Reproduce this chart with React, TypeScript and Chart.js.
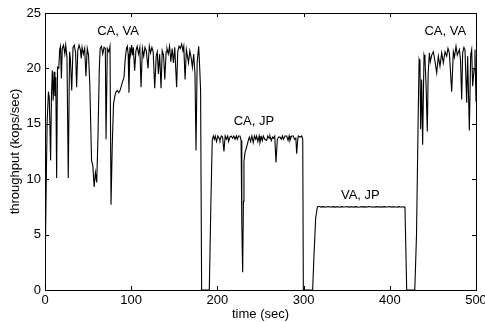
import { useEffect, useRef } from "react";
import { Chart, registerables } from "chart.js";

Chart.register(...registerables);

// time (sec)
const timeSec = [
  0, 1.5, 2.5, 4, 5, 6.5, 7.5, 8.5, 9.5, 10.5, 11.5, 12.5, 13.5, 14.5, 16, 17, 18, 19, 20, 21.5,
  23, 24, 25.5, 27, 28.5, 29.5, 31, 32.5, 34, 35.5, 36.7, 38, 39.5, 41, 42, 43, 44.5, 46, 47.5, 49,
  50.5, 52, 54, 55.5, 57, 58.5, 60, 61.5, 63, 64, 65.5, 67, 68.5, 70, 70.8, 72.3, 74, 75.4, 76.6, 78,
  79.5, 81, 82.5, 84, 85.5, 87, 88.5, 90, 91.7, 93, 94.5, 95.5, 96.5, 97.4, 98.5, 99.5, 100.5, 101.5, 102.5, 104,
  105.5, 107, 108.5, 110, 111.4, 113, 114.5, 116, 117.5, 119.5, 121, 122.5, 124, 125.5, 127.3, 129, 130.3, 131.5, 133, 134.6,
  136, 137.5, 139, 140.5, 141.5, 143, 144.5, 146, 147.5, 149, 150.5, 152.7, 154, 155.5, 157, 158.5, 160, 161, 162.5, 164,
  165.5, 166.5, 168, 169.5, 171, 172.5, 174, 175.2, 176.5, 178.3, 179.5, 180.5, 181.7, 190.6, 192.5, 194, 195.3,
  196.5, 197.5, 199, 200.5, 202, 203, 204.5, 206, 207.6, 209, 210.5, 212, 213, 214.5, 216, 217.7, 219, 220.5, 222, 223.1,
  224.5, 226.2, 227.5, 228.3, 229.3, 230.2, 230.8, 232, 233.9, 235.5, 237, 238.5, 240, 241.6, 243, 244.5, 245.5, 247, 248.5, 249.4,
  251, 252.2, 253.2, 255, 257.1, 258.5, 260, 261, 262.5, 264, 264.9, 266.5, 268, 269.5, 271, 272.6, 274, 275.5, 276.5, 278.5,
  280.4, 282, 283.2, 284.2, 286, 288.1, 289.5, 291, 292, 293.2, 293.9, 296, 297.8, 299, 299.7, 310.5, 312, 314, 316,
  318, 320, 322, 324, 326, 328, 330, 332, 334, 336, 338, 340, 342, 344, 346, 348, 350, 352, 354, 356,
  358, 360, 362, 364, 366, 368, 370, 372, 374, 376, 378, 380, 382, 384, 386, 388, 390, 392, 394, 396,
  398, 400, 402, 404, 406, 408, 410, 412, 414, 416, 417.6, 419.6, 429, 431, 433, 434,
  435, 435.8, 437, 438.1, 439.7, 440.8, 442, 443.5, 444.5, 445.9, 447, 448.6, 450.5, 452.5, 454.4, 456.3, 458.2, 460.2, 462.1, 464.1,
  466, 467.5, 469.1, 471.8, 473.7, 475, 476.8, 478.3, 480.7, 482, 483.4, 484.5, 486, 487.2, 489.2, 490.3, 492.3, 493.8, 495, 496.1,
  497.7, 498.8, 500,
];

// throughput (kops/sec)
const throughput = [
  1.0, 10, 15.2, 17.9, 17.3, 11.7, 17.5, 19.8, 17.1, 19.7, 17.5, 19.2, 10.1, 20.1, 20, 21.7, 22, 19.1, 21.8, 22.1,
  21.3, 22.1, 21, 10.1, 21.5, 20.8, 18, 21.9, 22.1, 21.4, 18.3, 21.6, 22.1, 21.7, 20.9, 21.9, 21.3, 21.8, 19.3, 21.8,
  21.2, 18.5, 11.7, 11.2, 9.3, 10.6, 9.7, 14, 20, 21.8, 22, 21.3, 21.9, 21.8, 13.6, 21.8, 21.5, 22, 7.7, 13,
  16.8, 17.5, 17.9, 18, 17.8, 18, 18.4, 18.8, 19.2, 20.8, 21.8, 22, 21.3, 17.8, 21.9, 21.3, 22.1, 21.2, 21.9, 19.8,
  21.6, 22, 21.3, 21.9, 18.3, 21.8, 21.1, 21.9, 21.6, 20, 22, 21.4, 21.9, 21.5, 18.2, 21.1, 21.5, 19.5, 21.3, 18.2,
  21.6, 21.2, 19, 21.5, 21.8, 21.3, 22, 20.6, 21.8, 20.5, 21.9, 18.3, 21.5, 22, 21.8, 22.2, 21.6, 22, 19, 21.7,
  21, 20.5, 21.6, 21, 20.1, 21.3, 19.5, 12.6, 20.5, 22, 20, 18, 0, 0, 8, 13.5, 13.9,
  13.6, 13.9, 13.4, 13.9, 13.7, 13.5, 13.9, 13.8, 12.5, 13.9, 13.6, 13.9, 13.4, 13.8, 13.9, 13.7, 13.9, 13.6, 13.9, 13.6,
  13.9, 13.9, 13.5, 6, 1.6, 8, 11.6, 12.4, 12.9, 13.4, 13.8, 13.4, 13.9, 13.3, 13.9, 13.6, 13.9, 13.4, 13.9, 13.3,
  13.8, 13.5, 13.9, 13.6, 13.5, 13.9, 13.7, 13.9, 13.5, 13.8, 13.7, 13.9, 11.5, 13.6, 13.8, 13.8, 13.6, 13.9, 13.6, 13.9,
  13.9, 13.5, 13.9, 13.5, 13.9, 13.9, 13.6, 13.7, 12.3, 13.6, 13.9, 13.8, 13.9, 13.6, 0, 0, 3, 6.5, 7.5,
  7.55, 7.48, 7.52, 7.5, 7.47, 7.53, 7.5, 7.49, 7.52, 7.48, 7.5, 7.51, 7.47, 7.52, 7.5, 7.49, 7.53, 7.48, 7.5, 7.51,
  7.48, 7.52, 7.5, 7.47, 7.51, 7.5, 7.52, 7.48, 7.5, 7.53, 7.49, 7.5, 7.47, 7.52, 7.5, 7.51, 7.48, 7.5, 7.52, 7.49,
  7.5, 7.53, 7.48, 7.5, 7.51, 7.47, 7.52, 7.5, 7.49, 7.5, 7.48, 0, 0, 5, 16, 20.8,
  20.5, 14.5, 19, 13.1, 21.2, 20.8, 18.7, 14.3, 19.5, 21.4, 20.6, 21.2, 21.5, 20.6, 19.6, 21.1, 20.2, 21.4, 20.5, 21.5,
  21.1, 21.8, 21.4, 17.9, 21.5, 21, 22, 21.2, 21.7, 20.8, 17.2, 21.4, 21.9, 21.7, 16.9, 21.1, 14.4, 21.2, 21.7, 18.4,
  19.9, 21.7, 17,
];

const xTicks = [0, 100, 200, 300, 400, 500];
const yTicks = [0, 5, 10, 15, 20, 25];

const regionLabels = ["CA, VA", "CA, JP", "VA, JP", "CA, VA"];
const regionLabelX = [84.7, 242.3, 365.8, 464.4];
const regionLabelY = [23.3, 15.2, 8.55, 23.3];

const FONT = "'Liberation Sans', Arial, Helvetica, sans-serif";

const framePlugin = {
  id: "matlabFrame",
  afterDatasetsDraw(chart: any) {
    const { ctx, chartArea, scales } = chart;
    const { left, right, top, bottom } = chartArea;
    const tl = 4;
    ctx.save();
    ctx.strokeStyle = "#000";
    ctx.lineWidth = 1;
    ctx.beginPath();
    for (const v of xTicks) {
      const px = Math.round(scales.x.getPixelForValue(v)) + 0.5;
      ctx.moveTo(px, bottom);
      ctx.lineTo(px, bottom - tl);
      ctx.moveTo(px, top);
      ctx.lineTo(px, top + tl);
    }
    for (const v of yTicks) {
      const py = Math.round(scales.y.getPixelForValue(v)) + 0.5;
      ctx.moveTo(left, py);
      ctx.lineTo(left + tl, py);
      ctx.moveTo(right, py);
      ctx.lineTo(right - tl, py);
    }
    ctx.stroke();
    ctx.strokeRect(Math.round(left) + 0.5, Math.round(top) + 0.5, Math.round(right - left), Math.round(bottom - top));
    ctx.fillStyle = "#000";
    ctx.font = `13px ${FONT}`;
    ctx.textAlign = "center";
    ctx.textBaseline = "middle";
    regionLabels.forEach((t, i) => {
      ctx.fillText(t, scales.x.getPixelForValue(regionLabelX[i]), scales.y.getPixelForValue(regionLabelY[i]));
    });
    ctx.restore();
  },
};

export default function App() {
  const ref = useRef<HTMLCanvasElement | null>(null);
  useEffect(() => {
    if (!ref.current) return;
    const chart = new Chart(ref.current, {
      type: "line",
      data: {
        datasets: [
          {
            data: timeSec.map((t, i) => ({ x: t, y: throughput[i] })),
            borderColor: "#000",
            borderWidth: 1.1,
            pointRadius: 0,
            tension: 0,
            fill: false,
          },
        ],
      },
      options: {
        animation: false,
        responsive: false,
        devicePixelRatio: 1,
        layout: { padding: { top: 13, right: 9, left: 0, bottom: 0 } },
        plugins: { legend: { display: false }, tooltip: { enabled: false } },
        scales: {
          x: {
            type: "linear",
            min: 0,
            max: 500,
            afterFit: (s: any) => {
              s.height = 32;
              s.paddingLeft = 0;
              s.paddingRight = 0;
            },
            afterBuildTicks: (s: any) => {
              s.ticks = xTicks.map((v) => ({ value: v }));
            },
            grid: { display: false, drawTicks: false },
            border: { display: false },
            ticks: { color: "#000", font: { family: FONT, size: 13 }, padding: 3, maxRotation: 0 },
            title: {
              display: true,
              text: "time (sec)",
              color: "#000",
              font: { family: FONT, size: 13 },
              padding: { top: 1, bottom: 0 },
            },
          },
          y: {
            min: 0,
            max: 25,
            afterFit: (s: any) => {
              s.width = 45;
              s.paddingTop = 0;
              s.paddingBottom = 0;
            },
            afterBuildTicks: (s: any) => {
              s.ticks = yTicks.map((v) => ({ value: v }));
            },
            grid: { display: false, drawTicks: false },
            border: { display: false },
            ticks: { color: "#000", font: { family: FONT, size: 13 }, padding: 4 },
            title: {
              display: true,
              text: "throughput (kops/sec)",
              color: "#000",
              font: { family: FONT, size: 13 },
              padding: { top: 8, bottom: 0 },
            },
          },
        },
      },
      plugins: [framePlugin],
    });
    return () => chart.destroy();
  }, []);
  return (
    <div style={{ position: "absolute", left: 0, top: 0, width: 485, height: 322, background: "#fff" }}>
      <canvas ref={ref} width={485} height={322} style={{ display: "block" }} />
    </div>
  );
}
